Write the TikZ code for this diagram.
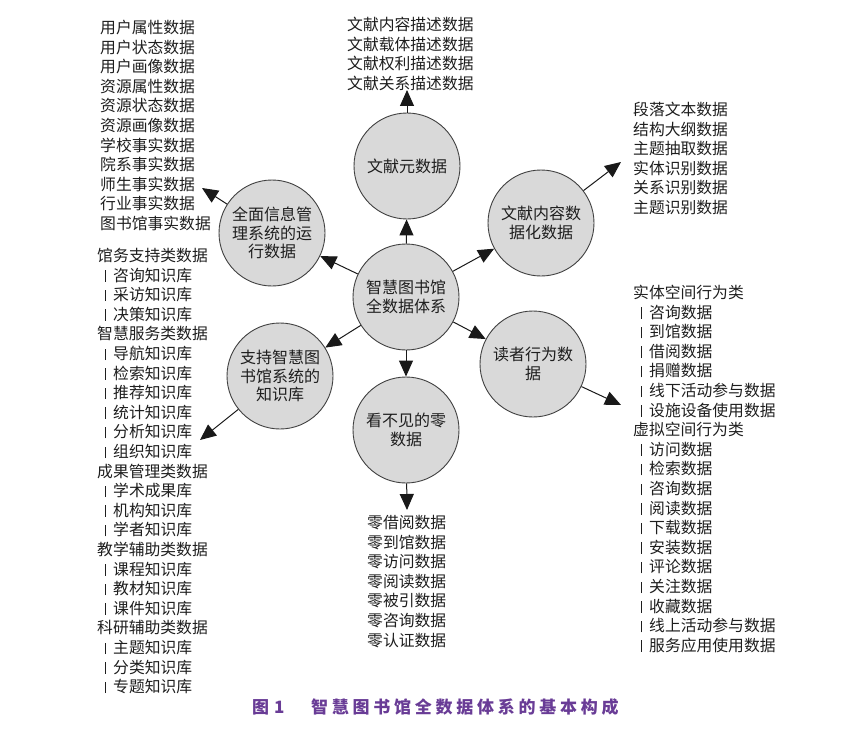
\documentclass[tikz,border=0pt]{standalone}
\usepackage{fontspec}
\setmainfont{Noto Sans CJK SC}
\newfontfamily\capfont[LetterSpace=22]{Noto Sans CJK SC}
\usetikzlibrary{arrows.meta}
\definecolor{capcol}{RGB}{105,60,150}
\definecolor{circfill}{RGB}{217,217,217}
\definecolor{txtcol}{RGB}{30,30,30}
\newcommand\subitm[1]{\makebox[16pt][c]{\rule[-0.5pt]{1.3pt}{11.5pt}}#1}
\tikzset{
  bubble/.style={circle, draw=black!75, line width=0.9pt, fill=circfill, minimum size=106pt, inner sep=0pt, align=center, text=txtcol, font=\fontsize{16}{18.5}\selectfont},
  listblock/.style={anchor=north west, inner sep=0pt, align=left, text=txtcol, font=\fontsize{15.8}{19.6}\selectfont},
  arr/.style={draw=black!90, line width=1pt, -{Triangle[length=16pt,width=14pt]}},
}
\begin{document}
\begin{tikzpicture}[x=1pt,y=-1pt]
\path[use as bounding box] (0,0) rectangle (858,730);
% circles
\node[bubble] (c)  at (406,297) {智慧图书馆\\全数据体系};
\node[bubble] (t)  at (407,166) {文献元数据};
\node[bubble] (ur) at (541,223) {文献内容数\\据化数据};
\node[bubble] (lr) at (533,364) {读者行为数\\据};
\node[bubble] (b)  at (406,430) {看不见的零\\数据};
\node[bubble] (ll) at (280,376) {支持智慧图\\书馆系统的\\知识库};
\node[bubble] (ul) at (272,233) {全面信息管\\理系统的运\\行数据};
% tips
\coordinate (tT)  at (407,90);
\coordinate (tUR) at (621,162);
\coordinate (tLR) at (621,405);
\coordinate (tB)  at (407,510);
\coordinate (tLL) at (200,440);
\coordinate (tUL) at (202,188);
% arrows center -> circles
\draw[arr] (c) -- (t);
\draw[arr] (c) -- (ur);
\draw[arr] (c) -- (lr);
\draw[arr] (c) -- (b);
\draw[arr] (c) -- (ll);
\draw[arr] (c) -- (ul);
% outer arrows
\draw[arr] (t) -- (tT);
\draw[arr] (ur) -- (tUR);
\draw[arr] (lr) -- (tLR);
\draw[arr] (b) -- (tB);
\draw[arr] (ll) -- (tLL);
\draw[arr] (ul) -- (tUL);
% text blocks
\node[listblock] (blkT) at (347,17) {文献内容描述数据\\文献载体描述数据\\文献权利描述数据\\文献关系描述数据};
\node[listblock] (blkUL) at (100,20) {用户属性数据\\用户状态数据\\用户画像数据\\资源属性数据\\资源状态数据\\资源画像数据\\学校事实数据\\院系事实数据\\师生事实数据\\行业事实数据\\图书馆事实数据};
\node[listblock] (blkUR) at (633,102) {段落文本数据\\结构大纲数据\\主题抽取数据\\实体识别数据\\关系识别数据\\主题识别数据};
\node[listblock] (blkL) at (97,248) {馆务支持类数据\\\subitm{咨询知识库}\\\subitm{采访知识库}\\\subitm{决策知识库}\\智慧服务类数据\\\subitm{导航知识库}\\\subitm{检索知识库}\\\subitm{推荐知识库}\\\subitm{统计知识库}\\\subitm{分析知识库}\\\subitm{组织知识库}\\成果管理类数据\\\subitm{学术成果库}\\\subitm{机构知识库}\\\subitm{学者知识库}\\教学辅助类数据\\\subitm{课程知识库}\\\subitm{教材知识库}\\\subitm{课件知识库}\\科研辅助类数据\\\subitm{主题知识库}\\\subitm{分类知识库}\\\subitm{专题知识库}};
\node[listblock] (blkLR) at (633,285) {实体空间行为类\\\subitm{咨询数据}\\\subitm{到馆数据}\\\subitm{借阅数据}\\\subitm{捐赠数据}\\\subitm{线下活动参与数据}\\\subitm{设施设备使用数据}\\虚拟空间行为类\\\subitm{访问数据}\\\subitm{检索数据}\\\subitm{咨询数据}\\\subitm{阅读数据}\\\subitm{下载数据}\\\subitm{安装数据}\\\subitm{评论数据}\\\subitm{关注数据}\\\subitm{收藏数据}\\\subitm{线上活动参与数据}\\\subitm{服务应用使用数据}};
\node[listblock] (blkB) at (367,515) {零借阅数据\\零到馆数据\\零访问数据\\零阅读数据\\零被引数据\\零咨询数据\\零认证数据};
% caption
\node[anchor=west, inner sep=0pt, text=capcol, font=\fontsize{17}{20}\selectfont\bfseries] (cap1) at (252,707) {图\hspace{5pt}1};
\node[anchor=west, inner sep=0pt, text=capcol, font=\fontsize{17}{20}\capfont\bfseries] (cap2) at (311,707) {智慧图书馆全数据体系的基本构成};
\end{tikzpicture}
\end{document}
